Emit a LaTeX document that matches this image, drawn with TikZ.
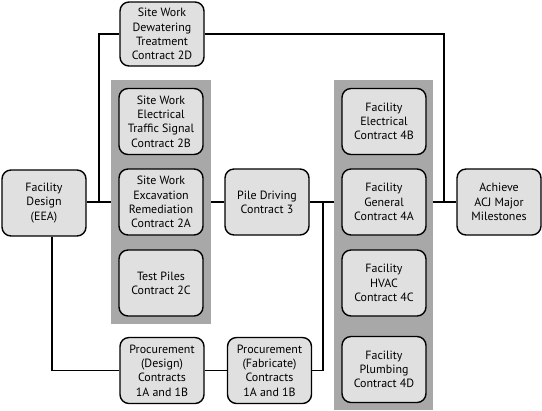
\documentclass[tikz,border=0pt]{standalone}
\usepackage{fontspec}
\setmainfont{PT Sans}
\usetikzlibrary{backgrounds}

\definecolor{boxgray}{HTML}{E0E0E0}
\definecolor{panelgray}{HTML}{A8A8A8}

\begin{document}
\begin{tikzpicture}[x=1bp, y=-1bp, font=\fontsize{12}{14.3}\selectfont,
    blk/.style={draw, line width=1.4pt, rounded corners=9bp, fill=boxgray, align=center,
      minimum width=84bp, minimum height=66bp, inner sep=1pt},
    panel/.style={fill=panelgray, inner sep=0pt},
    wire/.style={line width=1.4pt}]
  \useasboundingbox (0,0) rectangle (542,410);

  % ---------------- grey panels ----------------
  \node[panel, minimum width=100bp, minimum height=244bp] (lpanel) at (161,202) {};
  \node[panel, minimum width=99bp, minimum height=330bp] (rpanel) at (383.5,245) {};

  % ---------------- contract 2 ----------------
  \node[blk, minimum height=64bp] (dewater) at (162,34) {Site Work\\Dewatering\\Treatment\\Contract 2D};
  \node[blk] (elec2b) at (161,121.5) {Site Work\\Electrical\\Traffic Signal\\Contract 2B};
  \node[blk] (excav2a) at (161,202) {Site Work\\Excavation\\Remediation\\Contract 2A};
  \node[blk] (piles2c) at (161,283) {Test Piles\\Contract 2C};

  % ---------------- contract 4 ----------------
  \node[blk] (fac4b) at (384,121.5) {Facility\\Electrical\\Contract 4B};
  \node[blk] (fac4a) at (384,202) {Facility\\General\\Contract 4A};
  \node[blk] (hvac4c) at (384,283) {Facility\\HVAC\\Contract 4C};
  \node[blk] (plumb4d) at (384,369.5) {Facility\\Plumbing\\Contract 4D};

  % ---------------- main line ----------------
  \node[blk] (design) at (44,203) {Facility\\Design\\(EEA)};
  \node[blk] (pile) at (267,202) {Pile Driving\\Contract 3};
  \node[blk] (achieve) at (499,202) {Achieve\\ACJ Major\\Milestones};
  \node[blk] (procd) at (162,370.5) {Procurement\\(Design)\\Contracts\\1A and 1B};
  \node[blk] (procf) at (269.5,370.5) {Procurement\\(Fabricate)\\Contracts\\1A and 1B};

  \coordinate (jl) at (99,202);
  \coordinate (jm) at (323,202);
  \coordinate (jr) at (444,202);

  \draw[wire] (design.east |- jl) -- (lpanel.west |- jl);
  \draw[wire] (jl) |- (dewater.west);
  \draw[wire] (dewater.east) -| (jr) -- (achieve.west |- jr);
  \draw[wire] (rpanel.east |- jr) -- (jr);
  \draw[wire] (lpanel.east |- pile.west) -- (pile.west);
  \draw[wire] (pile.east) -- (rpanel.west |- pile.east);
  \draw[wire] ([xshift=8bp]design.south) |- (procd.west);
  \draw[wire] (procd.east) -- (procf.west);
  \draw[wire] (procf.east) -| (jm);
\end{tikzpicture}
\end{document}
